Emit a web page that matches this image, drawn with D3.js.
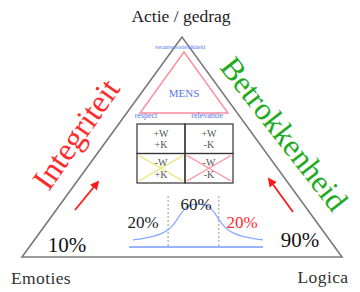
<!DOCTYPE html>
<html>
<head>
<meta charset="utf-8">
<script src="https://cdn.jsdelivr.net/npm/d3@7"></script>
<style>
  body { margin: 0; background: #fff; }
  svg { display: block; font-family: "Liberation Serif", "DejaVu Serif", serif; }
</style>
</head>
<body>
<div id="chart"></div>
<script>
// corners of the outer triangle, in a 0..100 unit space
const corners = [
  { name: "Actie / gedrag", u: 50, v: 100 },
  { name: "Emoties", u: 0, v: 0 },
  { name: "Logica", u: 100, v: 0 }
];
const sideLabels = ["Integriteit", "Betrokkenheid"];
const sideShares = ["10%", "90%"];
const innerLabels = ["verantwoordelijkheid", "respect", "relevantie"];
const centreLabel = "MENS";
const cellCols = ["+K", "-K"];
const cells = [
  { w: "+W", k: "+K", cross: null },
  { w: "+W", k: "-K", cross: null },
  { w: "-W", k: "+K", cross: "#e6e66a" },
  { w: "-W", k: "-K", cross: "#ff8c9a" }
];
const bellX = [0, 8, 16, 22, 27, 32, 36, 40, 44, 48, 52, 56, 60, 64, 68, 73, 78, 84, 92, 100];
const bellY = [0.03, 0.07, 0.13, 0.2, 0.3, 0.48, 0.72, 0.92, 1, 1.02, 1.02, 1, 0.92, 0.72, 0.48, 0.3, 0.2, 0.13, 0.07, 0.03];
const bellSplits = [27, 66];
const bellShares = ["20%", "60%", "20%"];

const width = 360, height = 292;
const svg = d3.select("#chart").append("svg")
  .attr("width", width).attr("height", height);

// outer triangle scales
const x = d3.scaleLinear().domain([0, 100]).range([22, 342]);
const y = d3.scaleLinear().domain([0, 100]).range([257, 37]);

svg.append("path")
  .attr("d", d3.line().x(d => x(d.u)).y(d => y(d.v))(corners) + "Z")
  .attr("fill", "none")
  .attr("stroke", "#7a7a7a")
  .attr("stroke-width", 1.6);

// corner names
svg.append("text").attr("x", 181).attr("y", 22).attr("text-anchor", "middle")
  .attr("font-size", 17.5).attr("fill", "#222").text(corners[0].name);
svg.append("text").attr("x", 41).attr("y", 284).attr("text-anchor", "middle")
  .attr("font-size", 17.5).attr("letter-spacing", 0.4).attr("fill", "#333").text(corners[1].name);
svg.append("text").attr("x", 323).attr("y", 283).attr("text-anchor", "middle")
  .attr("font-size", 17.5).attr("letter-spacing", 0.4).attr("fill", "#333").text(corners[2].name);

// side labels
svg.append("text")
  .attr("transform", "translate(76,134) rotate(-55)")
  .attr("text-anchor", "middle").attr("dominant-baseline", "central")
  .attr("font-size", 32).attr("fill", "#ff2a2a").text(sideLabels[0]);
svg.append("text")
  .attr("transform", "translate(284,134) rotate(52)")
  .attr("text-anchor", "middle").attr("dominant-baseline", "central")
  .attr("font-size", 31.5).attr("fill", "#22aa22").text(sideLabels[1]);

// red arrows
svg.append("defs").append("marker")
  .attr("id", "head")
  .attr("viewBox", "0 -5 10 10")
  .attr("refX", 8).attr("refY", 0)
  .attr("orient", "auto")
  .attr("markerWidth", 5).attr("markerHeight", 5)
  .append("path").attr("d", "M0,-5L10,0L0,5Z").attr("fill", "#ff1a1a");

svg.append("line").attr("x1", 75).attr("y1", 210).attr("x2", 98).attr("y2", 182)
  .attr("stroke", "#ff1a1a").attr("stroke-width", 1.8).attr("marker-end", "url(#head)");
svg.append("line").attr("x1", 293).attr("y1", 212).attr("x2", 269).attr("y2", 179)
  .attr("stroke", "#ff1a1a").attr("stroke-width", 1.8).attr("marker-end", "url(#head)");

// shares at the bottom corners
svg.append("text").attr("x", 67).attr("y", 252).attr("text-anchor", "middle")
  .attr("font-size", 21).attr("fill", "#111").text(sideShares[0]);
svg.append("text").attr("x", 300).attr("y", 247).attr("text-anchor", "middle")
  .attr("font-size", 21).attr("fill", "#111").text(sideShares[1]);

// inner pink triangle
const ix = d3.scaleLinear().domain([0, 100]).range([140, 228]);
const iy = d3.scaleLinear().domain([0, 100]).range([113, 52]);
svg.append("path")
  .attr("d", d3.line().x(d => ix(d.u)).y(d => iy(d.v))(corners) + "Z")
  .attr("fill", "none").attr("stroke", "#ff8c9a").attr("stroke-width", 1.4);

svg.append("text").attr("x", 180).attr("y", 49).attr("text-anchor", "middle")
  .attr("font-size", 6.5).attr("textLength", 50).attr("lengthAdjust", "spacingAndGlyphs")
  .attr("fill", "#5577ee").text(innerLabels[0]);
svg.append("text").attr("x", 146).attr("y", 118).attr("text-anchor", "middle")
  .attr("font-size", 8).attr("fill", "#5577ee").text(innerLabels[1]);
svg.append("text").attr("x", 207).attr("y", 118).attr("text-anchor", "middle")
  .attr("font-size", 8).attr("fill", "#5577ee").text(innerLabels[2]);
svg.append("text").attr("x", 184).attr("y", 97).attr("text-anchor", "middle")
  .attr("font-size", 11).attr("fill", "#5577ee").text(centreLabel);

// 2x2 table
const cx = d3.scaleBand().domain(cellCols).range([137, 233]);
const cy = d3.scaleBand().domain(["+W", "-W"]).range([124, 183]);
const cell = svg.append("g").selectAll("g").data(cells).join("g")
  .attr("transform", d => `translate(${cx(d.k)},${cy(d.w)})`);
cell.filter(d => d.cross).each(function (d) {
  const g = d3.select(this);
  const w = cx.bandwidth(), h = cy.bandwidth();
  g.append("line").attr("x1", 2).attr("y1", 2).attr("x2", w - 2).attr("y2", h - 2)
    .attr("stroke", d.cross).attr("stroke-width", 1.2);
  g.append("line").attr("x1", w - 2).attr("y1", 2).attr("x2", 2).attr("y2", h - 2)
    .attr("stroke", d.cross).attr("stroke-width", 1.2);
});
cell.append("rect")
  .attr("width", cx.bandwidth()).attr("height", cy.bandwidth())
  .attr("fill", "none").attr("stroke", "#333").attr("stroke-width", 1.2);
cell.append("text").attr("x", cx.bandwidth() / 2).attr("y", 12.5)
  .attr("text-anchor", "middle").attr("font-size", 10).attr("fill", "#555")
  .text(d => d.w);
cell.append("text").attr("x", cx.bandwidth() / 2).attr("y", 24)
  .attr("text-anchor", "middle").attr("font-size", 10).attr("fill", "#555")
  .text(d => d.k);

// bell curve
const bx = d3.scaleLinear().domain([0, 100]).range([133, 263]);
const by = d3.scaleLinear().domain([0, 1]).range([241, 205]);
const bell = bellX.map((v, i) => [v, bellY[i]]);

svg.append("line").attr("x1", bx(-3)).attr("x2", bx(100)).attr("y1", 247).attr("y2", 247)
  .attr("stroke", "#7799ff").attr("stroke-width", 1.5);
svg.selectAll(".split").data(bellSplits).join("line")
  .attr("class", "split")
  .attr("x1", d => bx(d)).attr("x2", d => bx(d))
  .attr("y1", 196).attr("y2", 246)
  .attr("stroke", "#999").attr("stroke-width", 1).attr("stroke-dasharray", "2,2");
svg.append("path")
  .attr("d", d3.line().x(d => bx(d[0])).y(d => by(d[1])).curve(d3.curveBasis)(bell))
  .attr("fill", "none").attr("stroke", "#88aaff").attr("stroke-width", 1.3);

svg.append("text").attr("x", 143).attr("y", 228).attr("text-anchor", "middle")
  .attr("font-size", 17).attr("fill", "#222").text(bellShares[0]);
svg.append("text").attr("x", 196).attr("y", 210).attr("text-anchor", "middle")
  .attr("font-size", 17).attr("fill", "#222").text(bellShares[1]);
svg.append("text").attr("x", 242).attr("y", 228).attr("text-anchor", "middle")
  .attr("font-size", 17).attr("fill", "#ff2a2a").text(bellShares[2]);
</script>
</body>
</html>
